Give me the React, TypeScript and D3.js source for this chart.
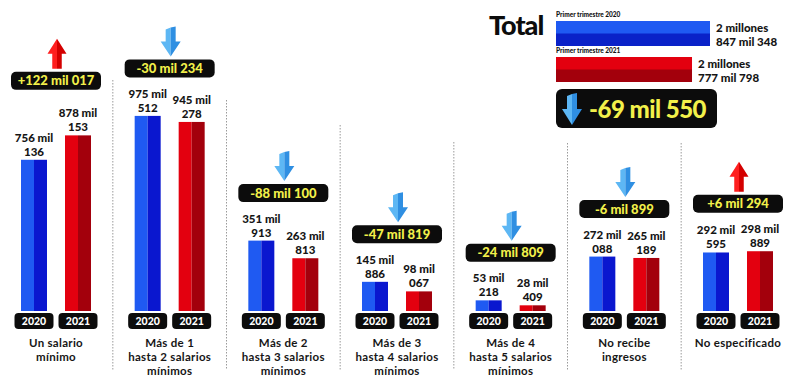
import React from "react";
import * as d3 from "d3";

const categories = ["g1", "g2", "g3", "g4", "g5", "g6", "g7"];
const categoryLines = [
  ["Un salario", "mínimo"],
  ["Más de 1", "hasta 2 salarios", "mínimos"],
  ["Más de 2", "hasta 3 salarios", "mínimos"],
  ["Más de 3", "hasta 4 salarios", "mínimos"],
  ["Más de 4", "hasta 5 salarios", "mínimos"],
  ["No recibe", "ingresos"],
  ["No especificado"],
];
const years = ["2020", "2021"];
const values2020 = [756136, 975512, 351913, 145886, 53218, 272088, 292595];
const values2021 = [878153, 945278, 263813, 98067, 28409, 265189, 298889];
const totalLabels = ["Primer trimestre 2020", "Primer trimestre 2021"];

// layout constants
const W = 801;
const H = 377;
const BASE = 311;
const BAR_W = 26;
const FONT = "Lato, 'Open Sans', sans-serif";
const YELLOW = "#f2f04a";
const LBL = 11.5;
const LBL_LH = 14;
const badgeExtraLift = [7, 0, 0, 0, 0, 0, 0];
const dividerTops = [80, 100, 125, 142, 143, 143];

const pad3 = (n: number) => String(n).padStart(3, "0");
const milLines = (v: number) => [`${Math.floor(v / 1000)} mil`, pad3(v % 1000)];
const diffText = (d: number) => {
  const a = Math.abs(d);
  return `${d >= 0 ? "+" : "-"}${Math.floor(a / 1000)} mil ${pad3(a % 1000)}`;
};
const totalLines = (v: number) => [
  `${Math.floor(v / 1e6)} millones`,
  `${Math.floor((v % 1e6) / 1000)} mil ${pad3(v % 1000)}`,
];

function Arrow({ cx, y0, w, h, up }: { cx: number; y0: number; w: number; h: number; up: boolean }) {
  const sw = w * 0.5;
  const hh = h * 0.5;
  let left: [number, number][];
  let right: [number, number][];
  if (!up) {
    left = [
      [cx, y0 + 1], [cx - sw / 2, y0 + 3], [cx - sw / 2, y0 + h - hh], [cx - w / 2, y0 + h - hh], [cx, y0 + h],
    ];
    right = [
      [cx, y0 + 1], [cx + sw / 2, y0], [cx + sw / 2, y0 + h - hh], [cx + w / 2, y0 + h - hh], [cx, y0 + h],
    ];
  } else {
    left = [
      [cx, y0], [cx - w / 2, y0 + hh], [cx - sw / 2, y0 + hh], [cx - sw / 2, y0 + h], [cx, y0 + h],
    ];
    right = [
      [cx, y0], [cx + w / 2, y0 + hh], [cx + sw / 2, y0 + hh], [cx + sw / 2, y0 + h], [cx, y0 + h],
    ];
  }
  const line = d3.line();
  const c1 = up ? "#ff1f1f" : "#5db7f4";
  const c2 = up ? "#d40000" : "#2f8fe2";
  return (
    <g>
      <path d={line(left) + "Z"} fill={c1} />
      <path d={line(right) + "Z"} fill={c2} />
    </g>
  );
}

function MultiLine({ x, y, lines, lh, ...rest }: any) {
  return (
    <text x={x} y={y} {...rest}>
      {lines.map((t: string, k: number) => (
        <tspan key={k} x={x} dy={k === 0 ? 0 : lh}>{t}</tspan>
      ))}
    </text>
  );
}

export default function App() {
  const x = d3.scalePoint<string>().domain(categories).range([56, 738]);
  const sub = d3.scalePoint<string>().domain(years).range([-22, 22]);
  const y = d3.scaleLinear().domain([0, 1000000]).range([BASE, BASE - 200]);

  const total2020 = d3.sum(values2020);
  const total2021 = d3.sum(values2021);
  const totals = [total2020, total2021];
  const tx = d3.scaleLinear().domain([2252000, total2020]).range([0, 154]);

  const centers = categories.map((c) => x(c) as number);

  return (
    <div style={{ position: "absolute", left: 0, top: 0, width: W, height: H, background: "#fff" }}>
      <svg width={W} height={H} style={{ display: "block", fontFamily: FONT }}>
        <rect width={W} height={H} fill="#ffffff" />
        {centers.slice(0, -1).map((c, i) => {
          const mx = (c + centers[i + 1]) / 2;
          return (
            <line key={"d" + i} x1={mx} x2={mx} y1={dividerTops[i]} y2={370}
              stroke="#9a9a9a" strokeWidth={1} strokeDasharray="1.5,1.5" />
          );
        })}
        {categories.map((c, i) => {
          const cx = centers[i];
          const vals = [values2020[i], values2021[i]];
          const tops = vals.map((v) => y(v));
          const minTop = Math.min(...tops);
          const labelTop = minTop - 4 - LBL_LH - 8.5;
          const badgeBottom = labelTop - 12 - badgeExtraLift[i];
          const badgeTop = badgeBottom - 18;
          const diff = vals[1] - vals[0];
          const up = diff >= 0;
          return (
            <g key={c}>
              {years.map((yr, j) => {
                const bx = cx + (sub(yr) as number);
                const top = tops[j];
                const light = j === 0 ? "#1f5af2" : "#e3000f";
                const dark = j === 0 ? "#0a17cf" : "#a3000c";
                return (
                  <g key={yr}>
                    <rect x={bx - BAR_W / 2} y={top} width={BAR_W / 2} height={BASE - top} fill={light} />
                    <rect x={bx} y={top} width={BAR_W / 2} height={BASE - top} fill={dark} />
                    <MultiLine x={bx} y={top - 4 - LBL_LH} lines={milLines(vals[j])} lh={LBL_LH}
                      textAnchor="middle" fontSize={LBL} fontWeight={900} fill="#151515" />
                    <rect x={bx - 19.5} y={313} width={39} height={16} rx={4} fill="#0c0c0c" />
                    <text x={bx} y={325} textAnchor="middle" fontSize={10.5} fontWeight={900} fill="#ffffff">{yr}</text>
                  </g>
                );
              })}
              <rect x={cx - 45} y={badgeTop} width={90} height={18} rx={5} fill="#0c0c0c" />
              <text x={cx} y={badgeTop + 13.5} textAnchor="middle" fontSize={13} fontWeight={900} fill={YELLOW}>{diffText(diff)}</text>
              <Arrow cx={cx + 1} y0={badgeTop - 33} w={up ? 19 : 20} h={30} up={up} />
              <MultiLine x={cx} y={346.5} lines={categoryLines[i]} lh={14}
                textAnchor="middle" fontSize={11.5} fontWeight={700} letterSpacing={0.3} fill="#161616" />
            </g>
          );
        })}
        <text x={489} y={35} fontSize={27} fontWeight={900} fill="#0c0c0c" letterSpacing={-1}>Total</text>
        {totals.map((v, j) => {
          const by = j === 0 ? 21 : 57;
          const len = tx(v);
          const light = j === 0 ? "#1f5af2" : "#e3000f";
          const dark = j === 0 ? "#0a22c8" : "#a3000c";
          return (
            <g key={"t" + j}>
              <text x={556} y={by - 4} fontSize={6.5} fontWeight={900} fill="#111">{totalLabels[j]}</text>
              <rect x={556} y={by} width={len} height={13} fill={light} />
              <rect x={556} y={by + 12.5} width={len} height={12.5} fill={dark} />
              <MultiLine x={556 + len + 6} y={by + 10.5} lines={totalLines(v)} lh={14}
                fontSize={11.5} fontWeight={900} fill="#151515" />
            </g>
          );
        })}
        <rect x={556} y={89} width={161} height={39} rx={6} fill="#0c0c0c" />
        <Arrow cx={572} y0={93} w={20} h={32} up={false} />
        <text x={589} y={118} fontSize={24} fontWeight={900} fill={YELLOW} letterSpacing={-0.5}>{diffText(total2021 - total2020)}</text>
      </svg>
    </div>
  );
}
